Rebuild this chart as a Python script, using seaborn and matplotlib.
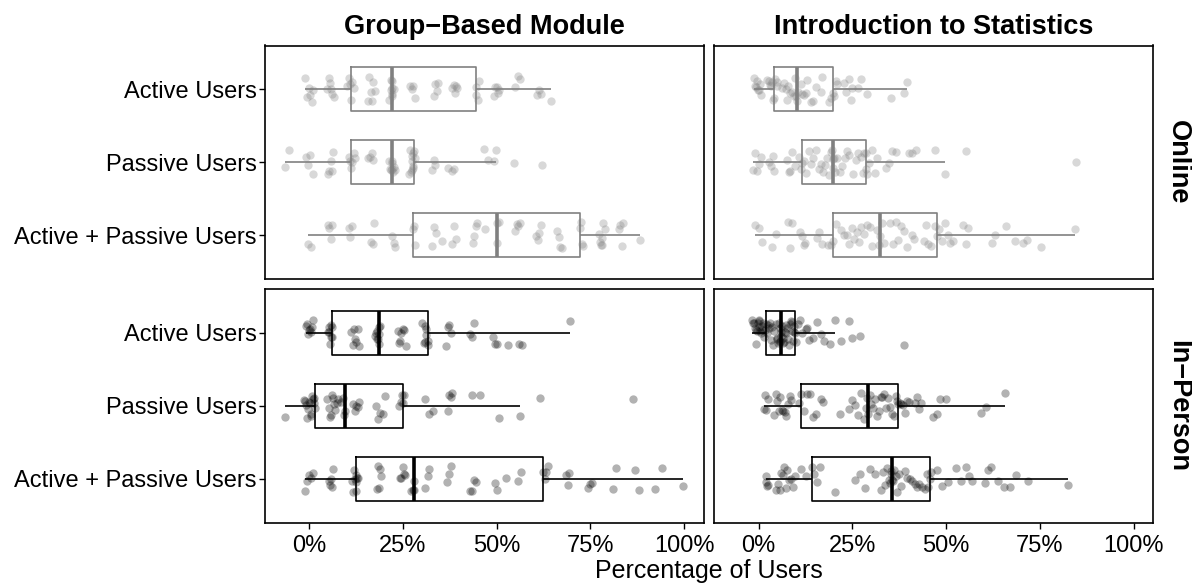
import numpy as np
import pandas as pd
import matplotlib
matplotlib.use("Agg")
import matplotlib.pyplot as plt
from matplotlib.ticker import PercentFormatter
import seaborn as sns

# Facets and categories
formats = ['Online', 'In−Person']
courses = ['Group−Based Module', 'Introduction to Statistics']
groups = ['Active Users', 'Passive Users', 'Active + Passive Users']
x_ticks = [0, 25, 50, 75, 100]

# Percentage of users per student
online_gbm_active = [-1.0, -0.5, 0.0, 0.3, 0.8, 1.0, 4.8, 5.2, 5.5, 5.8, 6.2, 6.5, 10.2, 10.6, 10.9,
                     11.1, 11.5, 12.0, 15.6, 16.0, 16.4, 16.8, 17.1, 17.5, 21.4, 21.7, 21.9, 22.0, 22.1, 22.1,
                     22.2, 22.6, 27.0, 27.4, 27.8, 28.1, 33.2, 33.6, 34.0, 34.3, 38.2, 38.5, 38.8, 39.1, 39.4,
                     44.4, 44.6, 44.9, 45.3, 49.2, 49.6, 50.0, 50.3, 50.6, 55.0, 55.6, 56.2, 60.8, 61.3, 61.9, 64.6]
online_gbm_passive = [-6.5, -5.3, -0.8, -0.2, 0.3, 0.9, 4.9, 5.3, 5.7, 6.0, 6.3, 10.6, 11.0,
                      11.2, 11.5, 11.9, 12.2, 15.8, 16.3, 16.7, 17.0, 21.3, 21.6, 21.8, 22.0, 22.1,
                      22.2, 22.4, 22.7, 23.0, 26.6, 26.9, 27.1, 27.3, 27.4, 27.5, 27.6, 27.7, 27.8,
                      27.9, 28.3, 32.8, 33.2, 33.6, 37.1, 38.0, 38.5, 46.7, 47.8, 49.3, 49.8, 54.7, 62.0]
online_gbm_both = [-0.2, 0.4, 5.0, 5.4, 5.8, 6.2, 10.6, 11.0, 11.4, 16.4, 16.9, 17.4, 22.0, 22.5, 23.0,
                   27.8, 28.0, 28.3, 32.8, 33.3, 33.8, 35.5, 38.2, 38.7, 39.2, 43.6, 44.0, 44.4, 44.8, 47.0,
                   50.0, 50.2, 50.6, 55.0, 55.4, 55.8, 56.2, 60.6, 61.0, 61.4, 61.8, 66.2, 66.6, 67.0, 67.4,
                   72.3, 72.5, 72.8, 73.0, 77.2, 77.5, 77.8, 78.0, 78.2, 78.5, 78.8, 82.6, 83.0, 83.4, 83.8, 88.2]

online_intro_active = [-1.2, -1.0, -0.8, -0.5, -0.2, 0.0, 0.3, 0.6, 2.2, 2.8, 3.0, 3.3, 3.6, 3.8,
                       4.0, 4.4, 4.8, 5.0, 6.3, 6.8, 7.2, 7.6, 7.9, 8.3, 9.0, 9.5, 9.8, 10.0,
                       10.2, 10.6, 11.2, 11.6, 12.0, 12.5, 13.0, 14.0, 14.6, 15.2, 16.5, 17.0, 18.8, 19.3,
                       19.8, 20.2, 20.5, 21.0, 22.8, 23.4, 24.0, 24.6, 25.0, 26.5, 27.2, 29.0, 35.4, 38.8, 39.6]
online_intro_passive = [-1.5, -1.0, -0.5, 0.0, 0.5, 2.8, 3.4, 3.8, 4.2, 7.5, 8.0, 8.3, 8.8, 9.6, 10.8, 11.2,
                        11.6, 12.0, 12.5, 13.4, 14.0, 14.6, 15.4, 16.0, 16.6, 17.2, 17.8, 18.3, 18.8, 19.2, 19.5, 19.7,
                        19.8, 20.0, 20.4, 21.0, 21.6, 22.2, 23.0, 23.6, 24.2, 25.2, 26.0, 26.5, 27.2, 27.8, 28.2, 28.5,
                        28.7, 29.0, 29.5, 30.3, 31.0, 31.5, 34.0, 34.8, 35.5, 36.5, 40.0, 41.0, 42.0, 47.0, 49.6,
                        55.4, 84.7]
online_intro_both = [-1.0, 0.0, 0.8, 3.5, 4.5, 7.8, 8.3, 8.8, 11.0, 11.5, 12.0, 12.4, 15.5, 16.2, 16.8, 18.5, 19.2,
                     19.8, 20.5, 22.0, 22.8, 23.5, 24.2, 24.8, 25.5, 26.2, 26.8, 27.4, 28.0, 29.0, 29.6, 30.2, 31.5, 32.0,
                     32.3, 32.8, 33.5, 35.0, 35.8, 36.5, 37.2, 38.0, 38.8, 39.5, 40.8, 41.5, 44.0, 44.6, 45.2, 46.0, 47.0,
                     47.6, 48.2, 49.0, 49.6, 50.5, 51.0, 51.8, 54.5, 55.2, 55.8, 62.3, 63.0, 66.0, 68.3, 70.5, 71.5,
                     75.4, 84.3]

inperson_gbm_active = [-0.8, -0.5, -0.2, 0.0, 0.2, 0.4, 0.7, 1.0, 5.0, 5.2, 5.4, 5.6, 5.8, 5.9, 6.0,
                       6.2, 11.2, 11.6, 12.0, 12.3, 12.6, 13.0, 13.3, 17.5, 17.8, 18.0, 18.2, 18.3, 18.5, 18.6,
                       18.7, 18.9, 23.6, 24.0, 24.3, 24.6, 25.0, 25.3, 25.8, 30.2, 30.5, 30.8, 31.0, 31.1, 31.2,
                       31.6, 31.8, 36.5, 37.0, 37.4, 37.8, 43.0, 43.5, 44.0, 49.0, 49.5, 50.0, 53.0, 56.0, 56.8, 69.5]
inperson_gbm_passive = [-6.5, -1.5, -1.0, -0.8, -0.5, -0.3, 0.0, 0.2, 0.4, 0.6, 0.8, 1.0, 1.2, 1.4,
                        1.6, 4.8, 5.2, 5.5, 5.7, 6.0, 6.3, 6.6, 7.0, 7.3, 7.6, 8.5, 9.0, 9.3,
                        9.6, 11.8, 12.2, 12.6, 13.0, 13.4, 17.8, 18.4, 19.0, 19.6, 20.2, 24.0, 24.5, 24.8,
                        25.1, 25.4, 31.0, 32.0, 33.0, 37.0, 37.4, 37.8, 38.2, 43.5, 45.5, 50.7, 56.2, 61.6, 86.5]
inperson_gbm_both = [-1.0, -0.5, 0.0, 0.5, 1.0, 5.2, 5.5, 5.8, 6.1, 6.4, 11.4, 11.7, 12.0, 12.2, 12.4, 12.5,
                     12.6, 12.8, 13.0, 18.0, 18.3, 18.6, 18.9, 19.2, 24.2, 24.6, 24.9, 25.2, 25.5, 27.2, 27.6, 27.9,
                     28.0, 31.0, 31.6, 32.0, 36.8, 37.3, 37.8, 43.0, 43.5, 44.0, 44.6, 49.5, 50.2, 52.4, 55.8, 56.4,
                     62.5, 62.8, 63.2, 63.6, 68.5, 69.0, 69.4, 74.5, 75.0, 75.4, 81.0, 81.8, 87.0, 88.0, 92.2, 94.0,
                     99.6]

inperson_intro_active = [-1.8, -1.5, -1.2, -1.0, -0.8, -0.6, -0.4, -0.2, 0.0, 0.0, 0.2, 0.4, 0.6, 0.8, 1.0, 1.2, 1.5, 1.7,
                         1.9, 2.2, 2.5, 2.8, 3.0, 3.3, 3.6, 3.9, 4.2, 4.5, 4.8, 5.0, 5.2, 5.4, 5.6, 5.7, 5.8, 5.9,
                         6.0, 6.2, 6.4, 6.6, 6.8, 7.0, 7.2, 7.4, 7.6, 7.8, 8.0, 8.3, 8.6, 8.8, 9.0, 9.2, 9.4, 9.5,
                         9.6, 10.0, 10.5, 11.0, 11.6, 12.5, 13.0, 13.5, 14.5, 15.5, 16.5, 17.5, 19.0, 20.4, 22.0,
                         24.0, 25.0, 27.0, 38.8]
inperson_intro_passive = [1.5, 1.6, 2.0, 2.5, 4.0, 4.5, 5.0, 5.5, 5.8, 6.2, 6.6, 7.0, 7.4, 7.8, 8.3, 8.7, 10.8,
                          11.2, 12.0, 13.0, 13.8, 14.6, 15.2, 16.5, 17.2, 21.6, 24.0, 24.8, 25.6, 26.4, 27.4, 28.0, 28.5,
                          29.0, 29.2, 29.6, 30.0, 30.5, 31.0, 31.5, 32.0, 32.5, 33.0, 33.5, 34.0, 34.5, 35.0, 35.5, 36.0,
                          36.5, 37.0, 37.2, 37.6, 38.0, 38.5, 39.0, 39.5, 40.0, 41.6, 42.2, 42.8, 43.4, 46.5, 47.5,
                          48.5, 50.0, 59.4, 60.7, 65.6]
inperson_intro_both = [1.9, 2.0, 2.3, 2.5, 4.7, 5.2, 5.6, 6.0, 6.4, 6.8, 7.2, 7.6, 8.0, 8.6, 9.2, 9.6, 11.4, 12.6,
                       14.3, 14.8, 15.6, 16.3, 20.3, 25.6, 27.0, 28.4, 29.6, 31.0, 32.7, 33.2, 33.8, 34.3, 34.8, 35.0,
                       35.2, 35.4, 35.6, 35.9, 36.2, 36.6, 37.0, 37.5, 38.0, 39.0, 39.6, 40.3, 41.0, 41.6, 42.2, 42.8,
                       43.5, 44.3, 45.0, 45.3, 45.6, 46.0, 47.5, 49.0, 50.5, 52.7, 54.0, 55.2, 56.0, 57.0, 60.3,
                       61.2, 62.0, 63.8, 65.5, 67.0, 68.7, 71.8, 82.5]

panel_data = {
    ('Online', 'Group−Based Module'): [online_gbm_active, online_gbm_passive, online_gbm_both],
    ('Online', 'Introduction to Statistics'): [online_intro_active, online_intro_passive, online_intro_both],
    ('In−Person', 'Group−Based Module'): [inperson_gbm_active, inperson_gbm_passive, inperson_gbm_both],
    ('In−Person', 'Introduction to Statistics'): [inperson_intro_active, inperson_intro_passive, inperson_intro_both],
}

rows = []
for (fmt, course), lists in panel_data.items():
    for grp, vals in zip(groups, lists):
        for v in vals:
            rows.append((fmt, course, grp, v))
df = pd.DataFrame(rows, columns=['format', 'course', 'group', 'pct'])

sns.set_style('white')
plt.rcParams['font.family'] = ['Liberation Sans', 'DejaVu Sans']
plt.rcParams['text.color'] = 'black'
plt.rcParams['axes.titlecolor'] = 'black'
np.random.seed(7)

W, H = 1192, 584
left, right, top, bottom = 265 / W, 1153 / W, 1 - 45.5 / H, 1 - 522.5 / H

fig, axes = plt.subplots(2, 2, figsize=(11.92, 5.84), dpi=100, sharex=True, sharey=True)
fig.subplots_adjust(left=left, right=right, top=top, bottom=bottom, wspace=0.025, hspace=0.045)

colors = {'Online': '#808080', 'In−Person': 'black'}

for i, fmt in enumerate(formats):
    for j, course in enumerate(courses):
        ax = axes[i, j]
        sub = df[(df['format'] == fmt) & (df['course'] == course)]
        col = colors[fmt]
        sns.boxplot(data=sub, x='pct', y='group', order=groups, orient='h', width=0.6,
                    fill=False, color=col, linewidth=1.2, showfliers=False, showcaps=False,
                    medianprops={'linewidth': 2.6}, ax=ax)
        sns.stripplot(data=sub, x='pct', y='group', order=groups, orient='h', jitter=0.18,
                      size=6, color=col, alpha=0.3, linewidth=0, ax=ax)
        ax.set_xlim(-11.8, 105.2)
        ax.set_ylim(2.6, -0.6)
        ax.set_xlabel('')
        ax.set_ylabel('')
        ax.set_xticks(x_ticks)
        ax.xaxis.set_major_formatter(PercentFormatter(100, decimals=0))
        for sp in ax.spines.values():
            sp.set_color('black')
            sp.set_linewidth(1.2)
        ax.tick_params(axis='both', length=4, width=1, color='black', labelsize=17,
                       labelcolor='black', direction='out')
        ax.tick_params(axis='y', pad=2)
        ax.tick_params(axis='x', pad=5)
        if j == 1:
            ax.tick_params(axis='y', left=False)
            ax.annotate(fmt, xy=(1, 0.5), xycoords='axes fraction', xytext=(18, 0),
                        textcoords='offset points', rotation=270, ha='center', va='center',
                        fontsize=19.5, fontweight='bold', color='black')
        else:
            ax.tick_params(axis='y', left=True)
        if i == 0:
            ax.tick_params(axis='x', bottom=False)
            ax.set_title(course, fontsize=19.5, fontweight='bold', pad=8, color='black')
        else:
            ax.tick_params(axis='x', bottom=True)

fig.text((left + right) / 2, 1 / H, 'Percentage of Users', ha='center', va='bottom',
         fontsize=18, color='black')

fig.savefig('out.png', dpi=100)
plt.close(fig)
